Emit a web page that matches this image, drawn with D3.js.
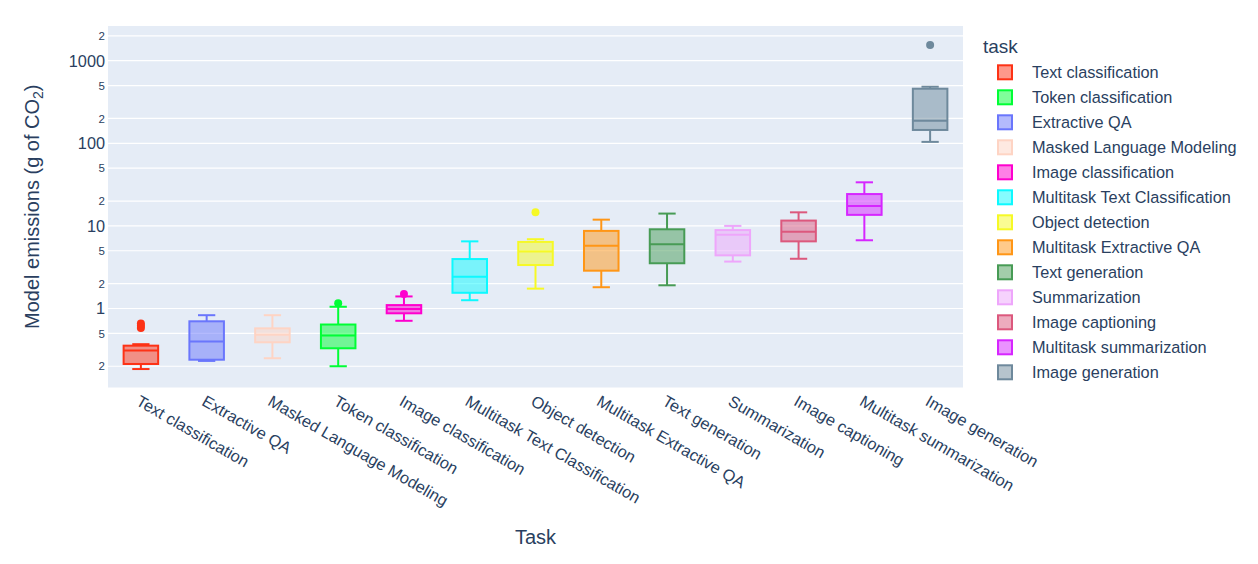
<!DOCTYPE html>
<html>
<head>
<meta charset="utf-8">
<script src="https://cdn.jsdelivr.net/npm/d3@7"></script>
<style>
  body { margin: 0; background: #fff; }
  text { font-family: "Liberation Sans", Arial, sans-serif; fill: #2a3f5f; }
</style>
</head>
<body>
<svg id="chart" width="1258" height="564"></svg>
<script>
// legend order (colour order)
const tasks = ["Text classification", "Token classification", "Extractive QA", "Masked Language Modeling",
  "Image classification", "Multitask Text Classification", "Object detection", "Multitask Extractive QA",
  "Text generation", "Summarization", "Image captioning", "Multitask summarization", "Image generation"];
const colors = ["#FD3216", "#00FE35", "#6A76FC", "#FED4C4", "#FE00CE", "#0DF9FF", "#F6F926",
  "#FF9616", "#479B55", "#EEA6FB", "#DC587D", "#D626FF", "#6E899C"];

// x axis order
const xOrder = ["Text classification", "Extractive QA", "Masked Language Modeling", "Token classification",
  "Image classification", "Multitask Text Classification", "Object detection", "Multitask Extractive QA",
  "Text generation", "Summarization", "Image captioning", "Multitask summarization", "Image generation"];

// box stats, in xOrder
const lowerFence = [0.185, 0.232, 0.25, 0.2, 0.71, 1.26, 1.74, 1.81, 1.91, 3.7, 4.0, 6.7, 104];
const q1 = [0.213, 0.24, 0.39, 0.33, 0.875, 1.55, 3.36, 2.87, 3.53, 4.4, 6.5, 13.6, 145];
const median = [0.31, 0.4, 0.48, 0.47, 0.985, 2.43, 4.9, 5.76, 6.0, 7.8, 8.5, 17.4, 188];
const q3 = [0.355, 0.7, 0.575, 0.64, 1.1, 3.97, 6.4, 8.7, 9.1, 8.9, 11.6, 24.3, 458];
const upperFence = [0.37, 0.83, 0.83, 1.05, 1.4, 6.5, 6.9, 11.9, 14.1, 10.0, 14.6, 33.7, 484];
const outliers = [[0.58, 0.62, 0.66], [], [], [1.16], [1.5], [], [14.6], [], [], [], [], [], [1550]];

const yMajor = [1, 10, 100, 1000];
const yMinor = [0.2, 0.5, 2, 5, 20, 50, 200, 500, 2000];

const svg = d3.select("#chart");
const plotL = 108, plotR = 963, plotT = 26, plotB = 387.5;

const x = d3.scalePoint().domain(xOrder).range([plotL, plotR]).padding(0.5);
const y = d3.scaleLog().domain([0.1106, 2630]).range([plotB, plotT]);
const color = d3.scaleOrdinal().domain(tasks).range(colors);
const boxW = x.step() * 0.525;

svg.append("rect").attr("x", plotL).attr("y", plotT)
  .attr("width", plotR - plotL).attr("height", plotB - plotT).attr("fill", "#E5ECF6");

// grid lines
svg.append("g").selectAll("line").data(yMajor.concat(yMinor)).join("line")
  .attr("x1", plotL).attr("x2", plotR)
  .attr("y1", d => y(d)).attr("y2", d => y(d))
  .attr("stroke", "#fff").attr("stroke-width", 1.2);

// y tick labels
svg.append("g").selectAll("text").data(yMajor).join("text")
  .attr("x", 105).attr("y", d => y(d)).attr("dy", "0.36em")
  .attr("text-anchor", "end").attr("font-size", 16.3).text(d => d);
svg.append("g").selectAll("text").data(yMinor).join("text")
  .attr("x", 105).attr("y", d => y(d)).attr("dy", "0.36em")
  .attr("text-anchor", "end").attr("font-size", 11.5).text(d => String(d).replace(/[0.]/g, ""));

// x tick labels
svg.append("g").selectAll("text").data(xOrder).join("text")
  .attr("transform", d => `translate(${x(d)},${plotB + 7}) rotate(30)`)
  .attr("dy", "0.71em").attr("font-size", 16.3).text(d => d);

// axis titles
svg.append("text").attr("x", (plotL + plotR) / 2).attr("y", 544)
  .attr("text-anchor", "middle").attr("font-size", 20).text("Task");
const yt = svg.append("text").attr("transform", `translate(39,${(plotT + plotB) / 2}) rotate(-90)`)
  .attr("text-anchor", "middle").attr("font-size", 20);
yt.append("tspan").text("Model emissions (g of CO");
yt.append("tspan").attr("font-size", 14).attr("dy", 4).text("2");
yt.append("tspan").attr("dy", -4).text(")");

// boxes
const boxes = svg.append("g").selectAll("g").data(xOrder).join("g")
  .attr("transform", d => `translate(${x(d)},0)`);
boxes.each(function(d, i) {
  const g = d3.select(this);
  const c = color(d);
  g.append("line").attr("x1", 0).attr("x2", 0).attr("y1", y(upperFence[i])).attr("y2", y(q3[i]))
    .attr("stroke", c).attr("stroke-width", 2);
  g.append("line").attr("x1", 0).attr("x2", 0).attr("y1", y(q1[i])).attr("y2", y(lowerFence[i]))
    .attr("stroke", c).attr("stroke-width", 2);
  [upperFence[i], lowerFence[i]].forEach(v => {
    g.append("line").attr("x1", -boxW / 4).attr("x2", boxW / 4).attr("y1", y(v)).attr("y2", y(v))
      .attr("stroke", c).attr("stroke-width", 2);
  });
  g.append("rect").attr("x", -boxW / 2).attr("width", boxW)
    .attr("y", y(q3[i])).attr("height", y(q1[i]) - y(q3[i]))
    .attr("fill", c).attr("fill-opacity", 0.5).attr("stroke", c).attr("stroke-width", 2);
  g.append("line").attr("x1", -boxW / 2).attr("x2", boxW / 2).attr("y1", y(median[i])).attr("y2", y(median[i]))
    .attr("stroke", c).attr("stroke-width", 2);
  g.selectAll("circle").data(outliers[i]).join("circle")
    .attr("cx", 0).attr("cy", v => y(v)).attr("r", 4).attr("fill", c);
});

// legend
svg.append("text").attr("x", 983).attr("y", 53).attr("font-size", 19).text("task");
const leg = svg.append("g").selectAll("g").data(tasks).join("g")
  .attr("transform", (d, i) => `translate(997,${72.3 + i * 25})`);
leg.append("rect").attr("x", 1).attr("y", -7).attr("width", 14).attr("height", 14)
  .attr("fill", d => color(d)).attr("fill-opacity", 0.5)
  .attr("stroke", d => color(d)).attr("stroke-width", 2);
leg.append("text").attr("x", 35).attr("dy", "0.36em").attr("font-size", 16.3).text(d => d);
</script>
</body>
</html>
